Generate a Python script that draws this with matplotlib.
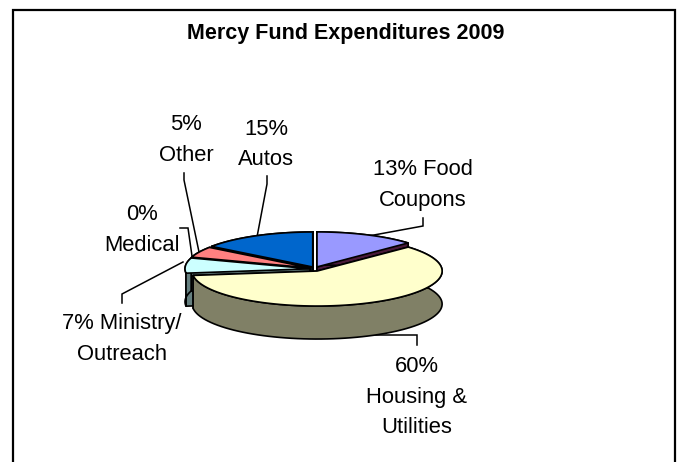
import numpy as np
import matplotlib
matplotlib.use("Agg")
import matplotlib.pyplot as plt
from matplotlib.patches import Polygon

# --- data -------------------------------------------------------------
categories = ["Food Coupons", "Housing & Utilities", "Ministry/ Outreach",
              "Medical", "Other", "Autos"]
percents = [13, 60, 7, 0, 5, 15]
slice_labels = ["13% Food\nCoupons", "60%\nHousing &\nUtilities", "7% Ministry/\nOutreach",
                "0%\nMedical", "5%\nOther", "15%\nAutos"]
title_text = "Mercy Fund Expenditures 2009"

# --- style ------------------------------------------------------------
top_colors = ["#9999FF", "#FFFFCC", "#CCFFFF", "#660066", "#FF8080", "#0066CC"]
side_colors = ["#4A1A3A", "#808066", "#668080", "#330033", "#804040", "#003366"]

# --- layout (pixels, y down) -----------------------------------------
W, H = 678, 462
CX, CY = 315, 269          # pie centre
RX, RY = 125, 35           # top-face ellipse
DEPTH = 33
EXPLODE = 5
draw_order = [5, 0, 4, 3, 2, 1]
label_pos = [(423, 185), (417, 397), (122, 339), (142, 230), (186, 140), (266, 144.5)]
leaders = [
    [(423, 218), (423, 226), (363, 237)],
    [(417, 345), (417, 335), (375, 335)],
    [(122, 303), (122, 294), (183, 262)],
    [(180, 228), (188, 228), (192, 256)],
    [(184, 173), (184, 180), (199, 252)],
    [(267, 176), (267, 184), (257, 237)],
]

plt.rcParams["font.family"] = ["Liberation Sans", "DejaVu Sans"]
fig = plt.figure(figsize=(W / 100, H / 100), dpi=100, facecolor="white")
ax = fig.add_axes([0, 0, 1, 1])
ax.set_xlim(0, W)
ax.set_ylim(H, 0)
ax.axis("off")

EDGE = dict(edgecolor="black", linewidth=1.2, joinstyle="round")

# chart border (open at the bottom, cropped in the reference)
ax.plot([13, 13, 675, 675], [H + 2, 10, 10, H + 2], color="black", lw=1.6,
        solid_joinstyle="miter", zorder=1)

ax.text(345.5, 39, title_text, ha="center", va="baseline", fontsize=15.5,
        fontweight="bold", color="black")


def rim(theta_deg, ox, oy):
    t = np.radians(theta_deg)
    return np.column_stack([ox + RX * np.cos(t), oy - RY * np.sin(t)])


fractions = np.array(percents, dtype=float) / sum(percents)
stops = 90 - 360 * np.concatenate([[0], np.cumsum(fractions)])

z = 2
for i in draw_order:
    if percents[i] == 0:
        continue
    a0, a1 = stops[i], stops[i + 1]
    mid = np.radians((a0 + a1) / 2)
    ox = CX + EXPLODE * np.cos(mid)
    oy = CY - EXPLODE * np.sin(mid) * 0.45
    arc = rim(np.linspace(a0, a1, 80), ox, oy)
    apex = np.array([ox, oy])
    down = np.array([0, DEPTH])
    for end in (arc[0], arc[-1]):
        ax.add_patch(Polygon([apex, end, end + down, apex + down],
                             facecolor=side_colors[i], zorder=z, **EDGE))
    ax.add_patch(Polygon(np.vstack([arc, (arc + down)[::-1]]),
                         facecolor=side_colors[i], zorder=z, **EDGE))
    ax.add_patch(Polygon(np.vstack([apex, arc]), facecolor=top_colors[i],
                         zorder=z + 0.5, **EDGE))
    z += 1

for pts in leaders:
    xs, ys = zip(*pts)
    ax.plot(xs, ys, color="black", lw=1.1, zorder=1.5, solid_joinstyle="miter")

for txt, (x, y) in zip(slice_labels, label_pos):
    ax.text(x, y, txt, ha="center", va="center", fontsize=15.8, color="black",
            linespacing=1.6, zorder=20)

fig.savefig("out.png", dpi=100)
